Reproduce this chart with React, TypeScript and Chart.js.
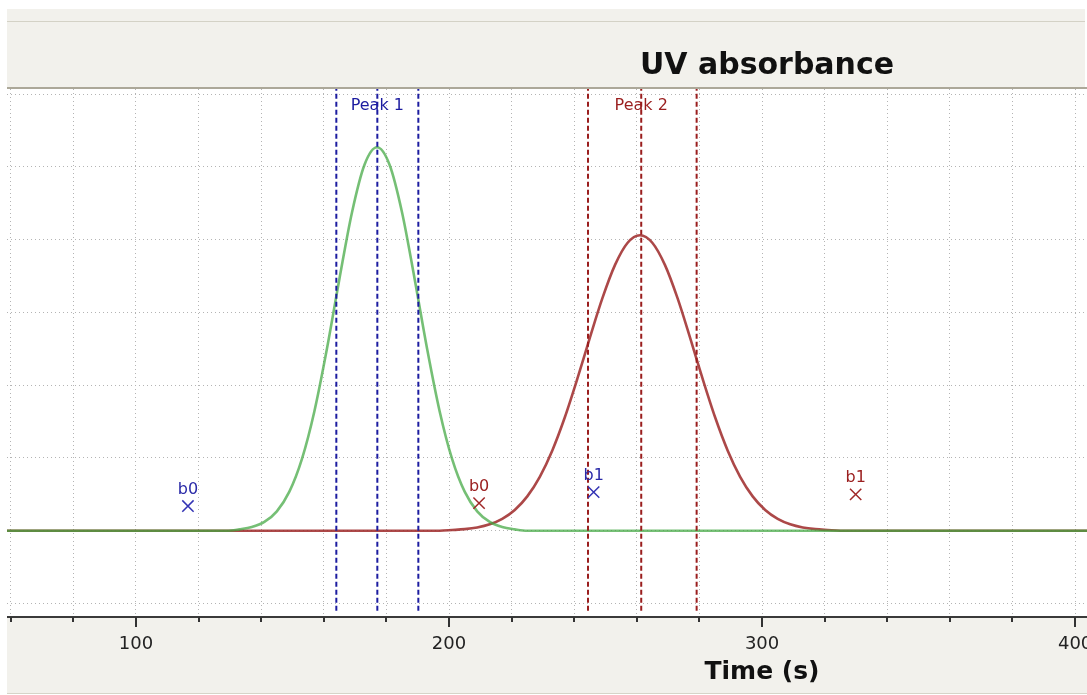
import React, { useEffect, useRef } from 'react';
import { Chart, registerables } from 'chart.js';

Chart.register(...registerables);

// ---- data ----
const xMin = 58.8;
const xMax = 403.8;
const yMin = -1.185;
const yMax = 6.07;

const greenTimes = [58, 129, 133, 137, 141, 145, 149, 153, 157, 161, 165, 169, 173, 177, 181, 185, 189, 193, 197, 201, 205, 209, 213, 217, 221, 225, 404];
const greenValues = [0, 0, 0.019, 0.05, 0.121, 0.267, 0.537, 0.984, 1.643, 2.5, 3.464, 4.374, 5.03, 5.27, 5.03, 4.374, 3.464, 2.5, 1.643, 0.984, 0.537, 0.267, 0.121, 0.05, 0.019, 0, 0];

const redTimes = [58, 197, 201, 205, 209, 213, 217, 221, 225, 229, 233, 237, 241, 245, 249, 253, 257, 261, 265, 269, 273, 277, 281, 285, 289, 293, 297, 301, 305, 309, 313, 317, 321, 325, 404];
const redValues = [0, 0, 0.01, 0.022, 0.045, 0.088, 0.163, 0.285, 0.472, 0.741, 1.104, 1.559, 2.089, 2.654, 3.196, 3.65, 3.954, 4.06, 3.954, 3.65, 3.196, 2.654, 2.089, 1.559, 1.104, 0.741, 0.472, 0.285, 0.163, 0.088, 0.045, 0.022, 0.01, 0, 0];

const peak1Lines = [164.0, 177.1, 190.2];
const peak2Lines = [244.4, 261.4, 279.1];
const peakLabels = ['Peak 1', 'Peak 2'];

const blueMarkerTimes = [116.6, 246.2];
const blueMarkerValues = [0.34, 0.53];
const redMarkerTimes = [209.6, 329.9];
const redMarkerValues = [0.38, 0.5];
const markerLabels = ['b0', 'b1'];

const xTickStep = 20;
const yTickStep = 1;
const chartTitle = 'UV absorbance';
const xAxisTitle = 'Time (s)';

// ---- colours ----
const BLUE = '#1c1ca0';
const RED = '#9a1e1e';
const GREEN_LINE = 'rgba(64,166,64,0.72)';
const RED_LINE = 'rgba(158,40,40,0.85)';
const PANEL = '#f2f1ec';
const FONT = '"DejaVu Sans", Verdana, sans-serif';

const toXY = (xs: number[], ys: number[]) => xs.map((x, i) => ({ x, y: ys[i] }));
const vline = (x: number) => [{ x, y: -1.1 }, { x, y: yMax }];

const decoPlugin = {
  id: 'deco',
  beforeDraw(chart: any) {
    const { ctx, width, height } = chart;
    ctx.save();
    ctx.fillStyle = '#ffffff';
    ctx.fillRect(0, 0, width, height);
    ctx.fillStyle = PANEL;
    ctx.fillRect(7, 9, 1078, 79);
    ctx.fillStyle = '#d4d2c6';
    ctx.fillRect(7, 21, 1078, 1);
    ctx.fillStyle = '#aca899';
    ctx.fillRect(7, 87, 1080, 2);
    ctx.fillStyle = PANEL;
    ctx.fillRect(7, 618, 1080, 75);
    ctx.fillStyle = '#d6d4c8';
    ctx.fillRect(7, 693, 1080, 1);
    ctx.restore();
  },
  afterDatasetsDraw(chart: any) {
    const { ctx, chartArea } = chart;
    const xs = chart.scales.x;
    ctx.save();
    ctx.textAlign = 'center';
    ctx.textBaseline = 'alphabetic';
    ctx.font = `16px ${FONT}`;
    // peak labels
    ctx.fillStyle = BLUE;
    ctx.fillText(peakLabels[0], xs.getPixelForValue(peak1Lines[1]), chartArea.top + 21);
    ctx.fillStyle = RED;
    ctx.fillText(peakLabels[1], xs.getPixelForValue(peak2Lines[1]), chartArea.top + 21);
    // marker labels
    chart.data.datasets.forEach((ds: any, di: number) => {
      if (!ds.markerLabels) return;
      const meta = chart.getDatasetMeta(di);
      ctx.fillStyle = ds.labelColor;
      meta.data.forEach((pt: any, i: number) => {
        ctx.fillText(ds.markerLabels[i], pt.x, pt.y - 12);
      });
    });
    ctx.restore();
  },
  afterDraw(chart: any) {
    const { ctx, chartArea } = chart;
    const xs = chart.scales.x;
    ctx.save();
    // axis line
    ctx.fillStyle = '#3a3a3a';
    ctx.fillRect(7, chartArea.bottom - 1, 1080, 2);
    // tick marks
    ctx.strokeStyle = '#333333';
    ctx.lineWidth = 2;
    xs.ticks.forEach((t: any) => {
      const px = Math.round(xs.getPixelForValue(t.value));
      const len = t.value % 100 === 0 ? 10 : 5;
      ctx.beginPath();
      ctx.moveTo(px, chartArea.bottom);
      ctx.lineTo(px, chartArea.bottom + len);
      ctx.stroke();
    });
    // titles
    ctx.fillStyle = '#111111';
    ctx.textAlign = 'center';
    ctx.textBaseline = 'alphabetic';
    ctx.font = `bold 30px ${FONT}`;
    ctx.fillText(chartTitle, 767, 74);
    ctx.font = `bold 25px ${FONT}`;
    ctx.fillText(xAxisTitle, 762, 679);
    ctx.restore();
  },
};

export default function App() {
  const ref = useRef<HTMLCanvasElement | null>(null);

  useEffect(() => {
    if (!ref.current) return;
    const dashed = (x: number, color: string) => ({
      data: vline(x),
      borderColor: color,
      borderWidth: 2,
      borderDash: [5, 3],
      pointRadius: 0,
      fill: false,
      tension: 0,
    });
    const chart = new Chart(ref.current, {
      type: 'line',
      data: {
        datasets: [
          {
            data: toXY(blueMarkerTimes, blueMarkerValues),
            showLine: false,
            pointStyle: 'crossRot',
            pointRadius: 8,
            pointBorderWidth: 1.5,
            borderColor: '#3434b4',
            backgroundColor: '#3434b4',
            markerLabels,
            labelColor: '#2a2aa8',
          } as any,
          {
            data: toXY(redMarkerTimes, redMarkerValues),
            showLine: false,
            pointStyle: 'crossRot',
            pointRadius: 8,
            pointBorderWidth: 1.5,
            borderColor: '#a02828',
            backgroundColor: '#a02828',
            markerLabels,
            labelColor: '#9b2020',
          } as any,
          ...peak1Lines.map((x) => dashed(x, BLUE)),
          ...peak2Lines.map((x) => dashed(x, RED)),
          {
            data: toXY(greenTimes, greenValues),
            borderColor: GREEN_LINE,
            borderWidth: 2.6,
            pointRadius: 0,
            fill: false,
            cubicInterpolationMode: 'monotone',
          },
          {
            data: toXY(redTimes, redValues),
            borderColor: RED_LINE,
            borderWidth: 2.6,
            pointRadius: 0,
            fill: false,
            cubicInterpolationMode: 'monotone',
          },
        ] as any,
      },
      options: {
        animation: false,
        responsive: false,
        devicePixelRatio: 1,
        layout: { autoPadding: false, padding: { top: 89, left: 7, right: 0, bottom: 0 } },
        plugins: {
          legend: { display: false },
          tooltip: { enabled: false },
          title: { display: false },
        },
        scales: {
          x: {
            type: 'linear',
            min: xMin,
            max: xMax,
            afterFit: (s: any) => {
              s.height = 78;
              s.paddingLeft = 0;
              s.paddingRight = 0;
            },
            ticks: {
              stepSize: xTickStep,
              includeBounds: false,
              autoSkip: false,
              maxRotation: 0,
              padding: 17,
              color: '#222222',
              font: { family: FONT, size: 18 },
              callback: (v: any) => (Number(v) % 100 === 0 ? String(v) : ''),
            },
            grid: {
              color: '#b4b4b4',
              lineWidth: 1,
              drawTicks: false,
            },
            border: { display: false, dash: [1, 3] },
          },
          y: {
            type: 'linear',
            min: yMin,
            max: yMax,
            afterFit: (s: any) => {
              s.width = 0;
              s.paddingTop = 0;
              s.paddingBottom = 0;
            },
            ticks: { stepSize: yTickStep, includeBounds: false, display: false },
            grid: {
              color: '#b4b4b4',
              lineWidth: 1,
              drawTicks: false,
            },
            border: { display: false, dash: [1, 3] },
          },
        },
      } as any,
      plugins: [decoPlugin],
    });
    return () => chart.destroy();
  }, []);

  return (
    <div style={{ position: 'fixed', left: 0, top: 0, width: 1087, height: 695, overflow: 'hidden' }}>
      <canvas ref={ref} width={1087} height={695} style={{ display: 'block' }} />
    </div>
  );
}
